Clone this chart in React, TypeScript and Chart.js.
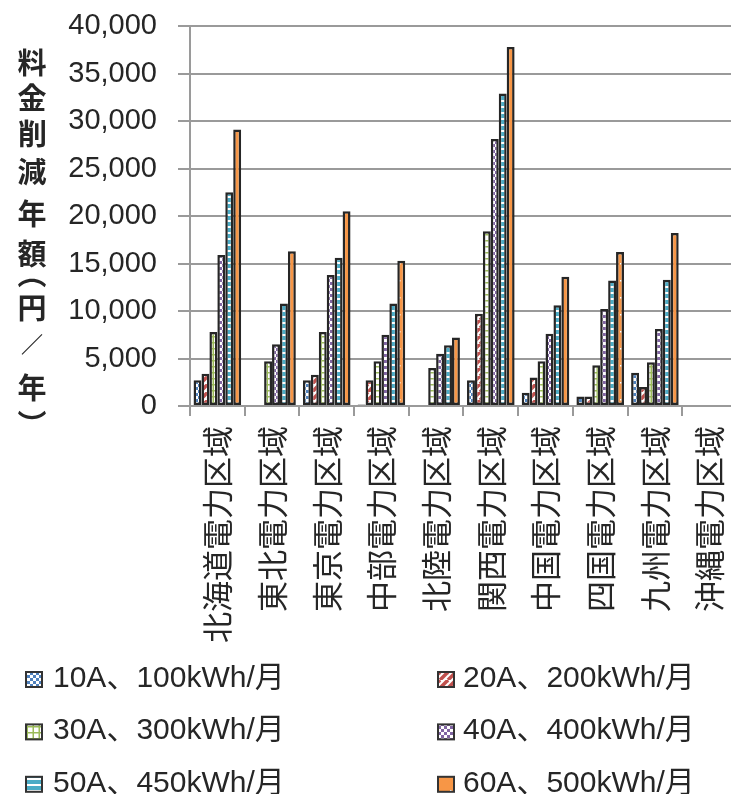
import React, { useEffect, useRef } from "react";
import { Chart, registerables } from "chart.js";

Chart.register(...registerables);

// ---- data ----
const categories = [
  "北海道電力区域",
  "東北電力区域",
  "東京電力区域",
  "中部電力区域",
  "北陸電力区域",
  "関西電力区域",
  "中国電力区域",
  "四国電力区域",
  "九州電力区域",
  "沖縄電力区域",
];
const seriesNames = [
  "10A、100kWh/月",
  "20A、200kWh/月",
  "30A、300kWh/月",
  "40A、400kWh/月",
  "50A、450kWh/月",
  "60A、500kWh/月",
];
const s10A = [2700, 0, 2700, 150, 0, 2700, 1400, 1000, 3500, 0];
const s20A = [3400, 0, 3300, 2700, 0, 9700, 3000, 1000, 2000, 0];
const s30A = [7800, 4700, 7800, 4700, 4000, 18400, 4700, 4300, 4600, 0];
const s40A = [15900, 6500, 13800, 7500, 5500, 28100, 7600, 10200, 8100, 0];
const s50A = [22500, 10800, 15600, 10800, 6400, 32900, 10600, 13200, 13300, 0];
const s60A = [29100, 16300, 20500, 15300, 7200, 37800, 13600, 16200, 18200, 0];
const yMin = 0;
const yMax = 40000;
const yStep = 5000;
const yTitle = "料金削減年額（円／年）";

// ---- styles ----
const LATIN = '"Liberation Sans", "Noto Sans CJK JP", sans-serif';
const CJK = '"Noto Sans CJK JP", sans-serif';
const TEXT = "#262626";
const GRID = "#9a9a9a";
const EDGE = "#262626";

function makePattern(size: number, draw: (g: CanvasRenderingContext2D) => void) {
  const c = document.createElement("canvas");
  c.width = size;
  c.height = size;
  const g = c.getContext("2d")!;
  draw(g);
  return g.createPattern(c, "repeat")!;
}

function buildPatterns() {
  const blue = makePattern(6, (g) => {
    g.fillStyle = "#fff";
    g.fillRect(0, 0, 6, 6);
    g.fillStyle = "#4F81BD";
    g.fillRect(0, 0, 3, 3);
    g.fillRect(3, 3, 3, 3);
  });
  const red = makePattern(8, (g) => {
    g.fillStyle = "#fff";
    g.fillRect(0, 0, 8, 8);
    g.strokeStyle = "#C0504D";
    g.lineWidth = 3.5;
    for (let k = -1; k <= 1; k++) {
      g.beginPath();
      g.moveTo(k * 8, 8);
      g.lineTo(k * 8 + 8, 0);
      g.stroke();
    }
  });
  const green = makePattern(6, (g) => {
    g.fillStyle = "#fff";
    g.fillRect(0, 0, 6, 6);
    g.fillStyle = "#9BBB59";
    g.fillRect(0, 0, 6, 1.5);
    g.fillRect(2.5, 0, 1.5, 6);
  });
  const purple = makePattern(6, (g) => {
    g.fillStyle = "#fff";
    g.fillRect(0, 0, 6, 6);
    g.fillStyle = "#8064A2";
    g.fillRect(0, 0, 3, 3);
    g.fillRect(3, 3, 3, 3);
  });
  const cyan = makePattern(6, (g) => {
    g.fillStyle = "#fff";
    g.fillRect(0, 0, 6, 6);
    g.fillStyle = "#4BACC6";
    g.fillRect(0, 0, 6, 4);
  });
  const orange = makePattern(17, (g) => {
    g.fillStyle = "#F79646";
    g.fillRect(0, 0, 17, 17);
    g.fillStyle = "#fff";
    g.fillRect(8, 8, 1.5, 1.5);
  });
  return [blue, red, green, purple, cyan, orange];
}

// vertical-writing forms for the title's brackets
const verticalForm: Record<string, string> = { "（": "︵", "）": "︶" };

function drawInkCentered(ctx: CanvasRenderingContext2D, ch: string, x: number, y: number) {
  ctx.save();
  ctx.translate(x, y);
  ctx.textAlign = "left";
  ctx.textBaseline = "alphabetic";
  const m = ctx.measureText(ch);
  const cx = (m.actualBoundingBoxRight - m.actualBoundingBoxLeft) / 2;
  const cy = (m.actualBoundingBoxDescent - m.actualBoundingBoxAscent) / 2;
  ctx.fillText(ch, -cx, -cy);
  ctx.restore();
}

export default function App() {
  const ref = useRef<HTMLCanvasElement | null>(null);

  useEffect(() => {
    if (!ref.current) return;
    const patterns = buildPatterns();
    const series = [s10A, s20A, s30A, s40A, s50A, s60A];

    const titlePlugin = {
      id: "yTitleAndLegend",
      afterDraw(chart: any) {
        const ctx: CanvasRenderingContext2D = chart.ctx;
        ctx.save();
        // vertical y-axis title, upright characters
        ctx.fillStyle = TEXT;
        const ys = [62, 97, 133, 171, 213, 253, 283, 308, 344, 387, 415];
        const chars = Array.from(yTitle);
        chars.forEach((ch, i) => {
          const glyph = verticalForm[ch] || ch;
          if (ch === "／") ctx.font = `bold 22px ${CJK}`;
          else ctx.font = `bold 29px ${CJK}`;
          drawInkCentered(ctx, glyph, 32, ys[i]);
        });
        // legend
        ctx.font = `30px ${LATIN}`;
        ctx.textAlign = "left";
        ctx.textBaseline = "alphabetic";
        seriesNames.forEach((name, i) => {
          const col = i % 2;
          const row = Math.floor(i / 2);
          const base = 687 + row * 52.4;
          const bx = col ? 438 : 26;
          ctx.fillStyle = patterns[i];
          ctx.fillRect(bx, base - 15, 16, 15);
          ctx.strokeStyle = "#333";
          ctx.lineWidth = 2;
          ctx.strokeRect(bx, base - 15, 16, 15);
          ctx.fillStyle = TEXT;
          ctx.fillText(name, col ? 463 : 53, base);
        });
        ctx.restore();
      },
    };

    const chart = new Chart(ref.current, {
      type: "bar",
      data: {
        labels: categories,
        datasets: series.map((d, i) => ({
          label: seriesNames[i],
          data: d,
          backgroundColor: patterns[i],
          borderColor: EDGE,
          borderWidth: 2.5,
          borderSkipped: false,
          categoryPercentage: 0.87,
          barPercentage: 1,
        })),
      },
      options: {
        responsive: false,
        maintainAspectRatio: false,
        animation: false,
        layout: { padding: { top: 26, right: 4, left: 0, bottom: 0 } },
        plugins: {
          legend: { display: false },
          tooltip: { enabled: false },
          title: { display: false },
        },
        scales: {
          x: {
            grid: {
              display: true,
              drawOnChartArea: false,
              drawTicks: true,
              tickLength: 10,
              color: GRID,
              lineWidth: 2,
              offset: true,
            },
            border: { display: true, color: GRID, width: 2 },
            ticks: {
              font: { family: CJK, size: 31 },
              color: TEXT,
              minRotation: 90,
              maxRotation: 90,
              autoSkip: false,
              padding: 10,
            },
            afterFit: (s: any) => {
              s.height = 388;
            },
          },
          y: {
            min: yMin,
            max: yMax,
            ticks: {
              stepSize: yStep,
              font: { family: LATIN, size: 29 },
              color: TEXT,
              padding: 21,
              callback: (v: any) => Number(v).toLocaleString("en-US"),
            },
            grid: { color: GRID, lineWidth: 2, tickLength: 12, drawTicks: true },
            border: { display: true, color: GRID, width: 2 },
            afterFit: (s: any) => {
              s.width = 190;
              s.paddingTop = 0;
              s.paddingBottom = 0;
            },
          },
        },
      },
      plugins: [titlePlugin],
    } as any);

    return () => chart.destroy();
  }, []);

  return (
    <div
      style={{
        position: "fixed",
        left: 0,
        top: 0,
        width: 731,
        height: 794,
        overflow: "hidden",
        background: "#fff",
      }}
    >
      <canvas ref={ref} width={757} height={794} style={{ display: "block" }} />
    </div>
  );
}
